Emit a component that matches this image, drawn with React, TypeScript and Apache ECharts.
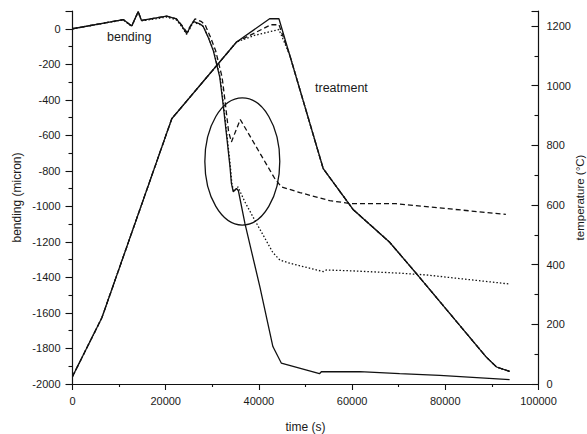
import React, { useEffect, useRef } from "react";
import * as echarts from "echarts";

// ---- data (time in s, bending in micron, temperature in °C) ----
const xTickInterval = 20000;
const bendingSolid: [number, number][] = [
  [0, 0], [10900, 52], [12700, 15], [14100, 97], [14800, 47], [20200, 71], [22300, 56],
  [23400, 19], [24500, -28], [25900, 41], [27300, 28], [28000, 15], [29100, -47],
  [30200, -122], [30900, -197], [31600, -272], [32300, -421], [33100, -609], [33800, -778],
  [34100, -871], [34500, -918], [35200, -899], [35600, -912], [37000, -1096], [40200, -1452],
  [43000, -1789], [44800, -1882], [53000, -1942], [53400, -1931], [61600, -1930],
  [70200, -1942], [78800, -1952], [93800, -1975],
];
const bendingDashed: [number, number][] = [
  [0, 0], [10900, 52], [12700, 15], [14100, 97], [14800, 47], [20200, 71], [22300, 56],
  [23400, 22], [24500, -18], [26300, 56], [27700, 40], [28500, 20], [29600, -47],
  [30700, -122], [31400, -197], [32100, -272], [32800, -421], [33500, -580], [34100, -637],
  [36000, -511], [43400, -843], [44800, -890], [48800, -922], [55200, -968], [60000, -985],
  [69500, -985], [93000, -1045],
];
const bendingDotted: [number, number][] = [
  [0, 0], [10900, 50], [12700, 13], [14100, 94], [14800, 44], [20200, 66], [22300, 50],
  [23400, 14], [24500, -32], [25900, 36], [27300, 24], [28100, 12], [29200, -50],
  [30300, -125], [31000, -200], [31700, -275], [32400, -424], [33200, -612], [33900, -781],
  [34200, -874], [34600, -915], [35500, -890], [37000, -975], [39100, -1077], [41300, -1180],
  [43000, -1260], [44500, -1302], [46600, -1320], [53800, -1367], [54500, -1358],
  [60000, -1363], [70200, -1376], [75900, -1386], [93800, -1437],
];
const tempSolid: [number, number][] = [
  [0, 25], [6300, 222], [21300, 889], [35200, 1146], [42300, 1224], [44300, 1224],
  [53800, 722], [60200, 585], [68000, 476], [73800, 370], [88800, 90], [91000, 57], [93800, 42],
];
const tempDashed: [number, number][] = [
  [0, 25], [6300, 222], [21300, 889], [35200, 1146], [42600, 1204], [44300, 1204],
  [46600, 1103], [53800, 722], [60200, 585], [68000, 476], [73800, 370], [88800, 90],
  [91000, 57], [93800, 42],
];
const tempDotted: [number, number][] = [
  [0, 25], [6300, 222], [21300, 889], [35200, 1146], [39000, 1168], [44300, 1188],
  [46600, 1103], [53800, 722], [60200, 585], [68000, 476], [73800, 370], [88800, 90],
  [91000, 57], [93800, 42],
];
// circled region: centre (time, bending) and radii (time, bending)
const ellipseCenter = [36440, -747];
const ellipseRadii = [8040, 358];

const FONT = "'Liberation Sans', Arial, Helvetica, sans-serif";
const INK = "#111";

export default function App() {
  const ref = useRef<HTMLDivElement>(null);
  useEffect(() => {
    document.body.style.margin = "0";
    const chart = echarts.init(ref.current!, null, { renderer: "svg" });
    const axisLine = { show: true, onZero: false, lineStyle: { color: INK, width: 1.2 } };
    const tickStyle = { color: INK, width: 1.1 };
    const plain = (v: number) => String(v);
    const labelStyle = { fontFamily: FONT, fontSize: 11, color: "#1a1a1a", formatter: plain };
    const nameStyle = { fontFamily: FONT, fontSize: 12, color: "#1a1a1a" };
    const line = (name: string, data: [number, number][], yAxisIndex: number, type: any) => ({
      type: "line",
      name,
      data,
      yAxisIndex,
      symbol: "none",
      showSymbol: false,
      lineStyle: { color: INK, width: 1.3, type },
      silent: true,
    });
    chart.setOption({
      animation: false,
      backgroundColor: "#fff",
      grid: {
        left: 72.5,
        right: 48.5,
        top: 11,
        bottom: 50,
        containLabel: false,
        outerBoundsMode: "none",
      },
      xAxis: {
        type: "value",
        min: 0,
        max: 100000,
        interval: xTickInterval,
        name: "time (s)",
        nameLocation: "middle",
        nameGap: 37,
        nameMoveOverlap: false,
        nameTextStyle: nameStyle,
        axisLine,
        axisTick: { show: true, length: 6, inside: false, lineStyle: tickStyle },
        minorTick: { show: true, splitNumber: 2, length: 3, lineStyle: tickStyle },
        axisLabel: { ...labelStyle, margin: 11 },
        splitLine: { show: false },
      },
      yAxis: [
        {
          type: "value",
          position: "left",
          min: -2000,
          max: 100,
          interval: 200,
          name: "bending (micron)",
          nameLocation: "middle",
          nameGap: 50,
          nameMoveOverlap: false,
          nameTextStyle: nameStyle,
          axisLine,
          axisTick: { show: true, length: 7, inside: false, lineStyle: tickStyle },
          minorTick: { show: true, splitNumber: 2, length: 4, lineStyle: tickStyle },
          axisLabel: { ...labelStyle, margin: 12, showMaxLabel: false },
          splitLine: { show: false },
        },
        {
          type: "value",
          position: "right",
          min: 0,
          max: 1250,
          interval: 200,
          name: "temperature (°C)",
          nameLocation: "middle",
          nameGap: 35,
          nameMoveOverlap: false,
          nameTextStyle: { ...nameStyle, fontSize: 11.5 },
          axisLine,
          axisTick: { show: true, length: 7, inside: true, lineStyle: tickStyle },
          minorTick: { show: true, splitNumber: 2, length: 4, lineStyle: tickStyle },
          axisLabel: { ...labelStyle, margin: 8, showMaxLabel: false },
          splitLine: { show: false },
        },
      ],
      graphic: [
        {
          type: "text",
          left: 107,
          top: 30,
          style: { text: "bending", font: `12.5px ${FONT}`, fill: "#1a1a1a" },
        },
        {
          type: "text",
          left: 315,
          top: 81,
          style: { text: "treatment", font: `12.5px ${FONT}`, fill: "#1a1a1a" },
        },
      ],
      series: [
        line("temperature 1", tempSolid, 1, "solid"),
        line("temperature 2", tempDashed, 1, [5, 3]),
        line("temperature 3", tempDotted, 1, [1.5, 2]),
        line("bending 1", bendingSolid, 0, "solid"),
        line("bending 2", bendingDashed, 0, [5, 3]),
        line("bending 3", bendingDotted, 0, [1.5, 2]),
        {
          type: "custom",
          name: "circle",
          coordinateSystem: "cartesian2d",
          xAxisIndex: 0,
          yAxisIndex: 0,
          silent: true,
          clip: false,
          data: [[ellipseCenter[0], ellipseCenter[1], ellipseRadii[0], ellipseRadii[1]]],
          renderItem: (_params: any, api: any) => {
            const c = api.coord([api.value(0), api.value(1)]);
            const s = api.size([api.value(2), api.value(3)]);
            return {
              type: "ellipse",
              shape: { cx: c[0], cy: c[1], rx: s[0], ry: s[1] },
              style: { fill: "none", stroke: INK, lineWidth: 1.3 },
            };
          },
        },
      ],
    });
    return () => chart.dispose();
  }, []);
  return <div ref={ref} style={{ width: 587, height: 434 }} />;
}
